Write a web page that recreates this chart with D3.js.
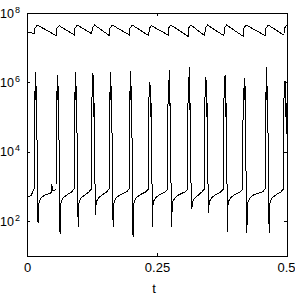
<!DOCTYPE html>
<html>
<head>
<meta charset="utf-8">
<script src="https://cdn.jsdelivr.net/npm/d3@7"></script>
<style>
  html, body { margin: 0; padding: 0; background: #fff; }
  svg { display: block; }
  .axis path, .axis line { stroke: #000; stroke-width: 1; shape-rendering: crispEdges; }
  .axis text, .label { font-family: "Liberation Sans", Arial, sans-serif; fill: #000; }
</style>
</head>
<body>
<svg id="chart" width="295" height="295"></svg>
<script>
// Tick values / labels
const xTicks = [0, 0.25, 0.5];
const xTickLabels = ['0', '0.25', '0.5'];
const yTicks = [1e2, 1e4, 1e6, 1e8];

// Upper trace (sawtooth), [t, value]
const upperSeries = [
  [0, 2.9e7], [0.0147, 2.5e7], [0.0150, 3.6e7], [0.0197, 4.5e7],
  [0.0570, 2.2e7], [0.0573, 3.6e7], [0.0620, 4.3e7],
  [0.0917, 2.3e7], [0.0920, 3.6e7], [0.0967, 4.5e7],
  [0.1249, 2.5e7], [0.1252, 3.6e7], [0.1299, 4.5e7],
  [0.1590, 2.2e7], [0.1593, 3.6e7], [0.1640, 4.5e7],
  [0.1974, 2.3e7], [0.1977, 3.6e7], [0.2024, 4.5e7],
  [0.2345, 2.2e7], [0.2348, 3.6e7], [0.2395, 4.3e7],
  [0.2717, 2.3e7], [0.2720, 3.6e7], [0.2767, 4.5e7],
  [0.3101, 2.1e7], [0.3104, 3.6e7], [0.3151, 4.5e7],
  [0.3422, 2.2e7], [0.3425, 3.6e7], [0.3472, 4.5e7],
  [0.3788, 2.2e7], [0.3791, 3.6e7], [0.3838, 4.5e7],
  [0.4163, 2.1e7], [0.4166, 3.6e7], [0.4213, 4.5e7],
  [0.4590, 2.2e7], [0.4593, 3.6e7], [0.4640, 4.5e7],
  [0.4942, 2.3e7], [0.4945, 3.6e7], [0.5000, 4.5e7]
];

// Lower trace (spikes), [t, value]
const lowerSeries = [
  // spike 1
  [0, 5.0e2], [0.0080, 5.5e2], [0.0110, 7.1e2], [0.0135, 8.5e2],
  [0.0139, 2e5], [0.0153, 5e5], [0.0167, 2.0e6], [0.0172, 3.2e5], [0.0177, 8e5], [0.0182, 1e5],
  [0.0187, 2.5e5], [0.0192, 3.2e4], [0.0197, 1.3e3], [0.0207, 1.2e3], [0.0212, 87],
  [0.0222, 2.8e2], [0.0237, 3.8e2], [0.0277, 4.8e2], [0.0347, 5.8e2],
  // spike 2 (with a small bump before it)
  [0.0440, 6.3e2], [0.0465, 6.8e2], [0.0470, 1.1e3], [0.0474, 7.5e2], [0.0479, 1.2e3], [0.0485, 7.5e2],
  [0.0515, 7.6e2], [0.0558, 8.5e2],
  [0.0562, 2e5], [0.0576, 5e5], [0.0590, 1.6e6], [0.0595, 3.2e5], [0.0600, 8e5], [0.0605, 1e5],
  [0.0610, 2.5e5], [0.0615, 3.2e4], [0.0620, 1.3e3], [0.0630, 1.2e3], [0.0635, 43],
  [0.0645, 2.8e2], [0.0660, 3.8e2], [0.0700, 4.8e2], [0.0770, 5.8e2],
  // spike 3
  [0.0862, 7.1e2], [0.0905, 8.5e2],
  [0.0909, 2e5], [0.0923, 5e5], [0.0937, 2.0e6], [0.0942, 3.2e5], [0.0947, 8e5], [0.0952, 1e5],
  [0.0957, 2.5e5], [0.0962, 3.2e4], [0.0967, 1.3e3], [0.0977, 1.2e3], [0.0982, 69],
  [0.0992, 2.8e2], [0.1007, 3.8e2], [0.1047, 4.8e2], [0.1117, 5.8e2],
  // spike 4
  [0.1194, 7.1e2], [0.1237, 8.5e2],
  [0.1241, 2e5], [0.1255, 5e5], [0.1269, 1.9e6], [0.1274, 3.2e5], [0.1279, 8e5], [0.1284, 1e5],
  [0.1289, 2.5e5], [0.1294, 3.2e4], [0.1299, 1.3e3], [0.1309, 1.2e3], [0.1314, 150],
  [0.1324, 2.8e2], [0.1339, 3.8e2], [0.1379, 4.8e2], [0.1449, 5.8e2],
  // spike 5
  [0.1535, 7.1e2], [0.1578, 8.5e2],
  [0.1582, 2e5], [0.1596, 5e5], [0.1610, 2.0e6], [0.1615, 3.2e5], [0.1620, 8e5], [0.1625, 1e5],
  [0.1630, 2.5e5], [0.1635, 3.2e4], [0.1640, 1.3e3], [0.1650, 1.2e3], [0.1655, 69],
  [0.1665, 2.8e2], [0.1680, 3.8e2], [0.1720, 4.8e2], [0.1790, 5.8e2],
  // spike 6
  [0.1919, 7.1e2], [0.1962, 8.5e2],
  [0.1966, 2e5], [0.1980, 5e5], [0.1994, 2.1e6], [0.1999, 3.2e5], [0.2004, 8e5], [0.2009, 1e5],
  [0.2014, 2.5e5], [0.2019, 3.2e4], [0.2024, 1.3e3], [0.2034, 1.2e3], [0.2039, 35],
  [0.2049, 2.8e2], [0.2064, 3.8e2], [0.2104, 4.8e2], [0.2174, 5.8e2],
  // spike 7
  [0.2290, 7.1e2], [0.2333, 8.5e2],
  [0.2337, 2e5], [0.2351, 5e5], [0.2365, 1.05e6], [0.2370, 3.2e5], [0.2375, 8e5], [0.2380, 1e5],
  [0.2385, 2.5e5], [0.2390, 3.2e4], [0.2395, 1.3e3], [0.2405, 1.2e3], [0.2410, 69],
  [0.2420, 2.8e2], [0.2435, 3.8e2], [0.2475, 4.8e2], [0.2545, 5.8e2],
  // spike 8
  [0.2662, 7.1e2], [0.2705, 8.5e2],
  [0.2709, 2e5], [0.2723, 5e5], [0.2737, 2.3e6], [0.2742, 3.2e5], [0.2747, 8e5], [0.2752, 1e5],
  [0.2757, 2.5e5], [0.2762, 3.2e4], [0.2767, 1.3e3], [0.2777, 1.2e3], [0.2782, 69],
  [0.2792, 2.8e2], [0.2807, 3.8e2], [0.2847, 4.8e2], [0.2917, 5.8e2],
  // spike 9
  [0.3046, 7.1e2], [0.3089, 8.5e2],
  [0.3093, 2e5], [0.3107, 5e5], [0.3121, 2.75e6], [0.3126, 3.2e5], [0.3131, 8e5], [0.3136, 1e5],
  [0.3141, 2.5e5], [0.3146, 3.2e4], [0.3151, 1.3e3], [0.3161, 1.2e3], [0.3166, 234],
  [0.3176, 2.8e2], [0.3191, 3.8e2], [0.3231, 4.8e2], [0.3301, 5.8e2],
  // spike 10
  [0.3367, 7.1e2], [0.3410, 8.5e2],
  [0.3414, 2e5], [0.3428, 5e5], [0.3442, 1.45e6], [0.3447, 3.2e5], [0.3452, 8e5], [0.3457, 1e5],
  [0.3462, 2.5e5], [0.3467, 3.2e4], [0.3472, 1.3e3], [0.3482, 1.2e3], [0.3487, 174],
  [0.3497, 2.8e2], [0.3512, 3.8e2], [0.3552, 4.8e2], [0.3622, 5.8e2],
  // spike 11
  [0.3733, 7.1e2], [0.3776, 8.5e2],
  [0.3780, 2e5], [0.3794, 5e5], [0.3808, 1.6e6], [0.3813, 3.2e5], [0.3818, 8e5], [0.3823, 1e5],
  [0.3828, 2.5e5], [0.3833, 3.2e4], [0.3838, 1.3e3], [0.3848, 1.2e3], [0.3853, 50],
  [0.3863, 2.8e2], [0.3878, 3.8e2], [0.3918, 4.8e2], [0.3988, 5.8e2],
  // spike 12
  [0.4108, 7.1e2], [0.4151, 8.5e2],
  [0.4155, 2e5], [0.4169, 5e5], [0.4183, 1.35e6], [0.4188, 3.2e5], [0.4193, 8e5], [0.4198, 1e5],
  [0.4203, 2.5e5], [0.4208, 3.2e4], [0.4213, 1.3e3], [0.4223, 1.2e3], [0.4228, 46],
  [0.4238, 2.8e2], [0.4253, 3.8e2], [0.4293, 4.8e2], [0.4363, 5.8e2],
  // spike 13
  [0.4535, 7.1e2], [0.4578, 8.5e2],
  [0.4582, 2e5], [0.4596, 5e5], [0.4610, 2.75e6], [0.4615, 3.2e5], [0.4620, 8e5], [0.4625, 1e5],
  [0.4630, 2.5e5], [0.4635, 3.2e4], [0.4640, 1.3e3], [0.4650, 1.2e3], [0.4655, 46],
  [0.4665, 2.8e2], [0.4680, 3.8e2], [0.4720, 4.8e2], [0.4790, 5.8e2],
  // spike 14 (cut at t = 0.5)
  [0.4887, 7.1e2], [0.4930, 8.5e2],
  [0.4934, 2e5], [0.4948, 5e5], [0.4962, 1.1e6], [0.4967, 3.2e5], [0.4972, 8e5], [0.4977, 1e5],
  [0.4982, 2.5e5], [0.4987, 3.2e4], [0.5000, 5e4]
];

const svg = d3.select('#chart');
const plotLeft = 27, plotRight = 287, plotTop = 13, plotBottom = 256;

const x = d3.scaleLinear().domain([0, 0.5]).range([plotLeft, plotRight]);
const y = d3.scaleLog().domain([10, 1e8]).range([plotBottom, plotTop]);

// Box with inward ticks on all four sides
svg.append('g').attr('class', 'axis')
  .attr('transform', `translate(0,${plotBottom})`)
  .call(d3.axisBottom(x).tickValues(xTicks).tickSizeInner(-3).tickSizeOuter(0).tickPadding(7)
    .tickFormat((d, i) => xTickLabels[i]))
  .call(g => g.selectAll('text').attr('font-size', 13))
  // keep the last label inside the window
  .call(g => g.selectAll('.tick:last-of-type text').attr('text-anchor', 'end').attr('x', 8));

svg.append('g').attr('class', 'axis')
  .attr('transform', `translate(0,${plotTop})`)
  .call(d3.axisTop(x).tickValues(xTicks).tickSizeInner(-3).tickSizeOuter(0).tickFormat(''));

svg.append('g').attr('class', 'axis')
  .attr('transform', `translate(${plotLeft},0)`)
  .call(d3.axisLeft(y).tickValues(yTicks).tickSizeInner(-3).tickSizeOuter(0).tickFormat(''));

svg.append('g').attr('class', 'axis')
  .attr('transform', `translate(${plotRight},0)`)
  .call(d3.axisRight(y).tickValues(yTicks).tickSizeInner(-3).tickSizeOuter(0).tickFormat(''));

// Y tick labels as 10^n
const yLabels = svg.append('g').attr('class', 'axis');
yTicks.forEach(v => {
  const t = yLabels.append('text')
    .attr('x', 0)
    .attr('y', y(v) + 4.5)
    .attr('font-size', 12.5);
  t.append('tspan').text('10');
  t.append('tspan').attr('dy', -5).attr('dx', 1).attr('font-size', 9).text(Math.round(Math.log10(v)));
});

// Axis title
svg.append('text').attr('class', 'label')
  .attr('x', x(0.25) - 3)
  .attr('y', 293)
  .attr('text-anchor', 'middle')
  .attr('font-size', 13)
  .text('t');

const line = d3.line().x(d => x(d[0])).y(d => y(d[1]));

svg.append('path')
  .datum(upperSeries)
  .attr('d', line)
  .attr('fill', 'none')
  .attr('stroke', '#000')
  .attr('stroke-width', 1)
  .attr('shape-rendering', 'crispEdges');

svg.append('path')
  .datum(lowerSeries)
  .attr('d', line)
  .attr('fill', 'none')
  .attr('stroke', '#000')
  .attr('stroke-width', 1)
  .attr('shape-rendering', 'crispEdges');
</script>
</body>
</html>
